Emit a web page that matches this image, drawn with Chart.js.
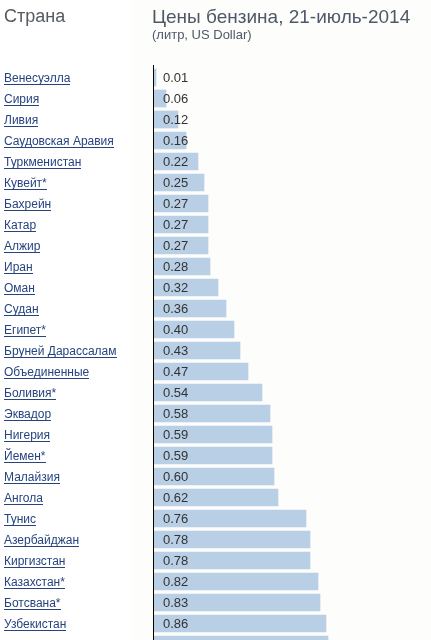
<!DOCTYPE html>
<html>
<head>
<meta charset="utf-8">
<script src="https://cdn.jsdelivr.net/npm/chart.js@4"></script>
<style>
  html, body { margin: 0; padding: 0; background: #fff; overflow: hidden; }
  #wrap { position: relative; width: 431px; height: 655px; }
</style>
</head>
<body>
<div id="wrap"><canvas id="fuelChart" width="431" height="655"></canvas></div>
<script>
// --- data ---
const countries = [
  "Венесуэлла", "Сирия", "Ливия", "Саудовская Аравия", "Туркменистан",
  "Кувейт*", "Бахрейн", "Катар", "Алжир", "Иран", "Оман", "Судан",
  "Египет*", "Бруней Дарассалам", "Объединенные", "Боливия*", "Эквадор",
  "Нигерия", "Йемен*", "Малайзия", "Ангола", "Тунис", "Азербайджан",
  "Киргизстан", "Казахстан*", "Ботсвана*", "Узбекистан", ""
];
const prices = [
  0.01, 0.06, 0.12, 0.16, 0.22, 0.25, 0.27, 0.27, 0.27, 0.28, 0.32, 0.36,
  0.40, 0.43, 0.47, 0.54, 0.58, 0.59, 0.59, 0.60, 0.62, 0.76, 0.78, 0.78,
  0.82, 0.83, 0.86, 0.87
];
const columnHeader = "Страна";
const chartTitle = "Цены бензина, 21-июль-2014";
const chartSubtitle = "(литр, US Dollar)";

const FONT = '"Liberation Sans", Arial, sans-serif';
const LINK = "#27447f";

// headers, axis line, underlines and value labels
const decorPlugin = {
  id: "decor",
  beforeDraw(chart) {
    const ctx = chart.ctx;
    ctx.save();
    ctx.fillStyle = "#fdfdfb";
    ctx.fillRect(132, 0, chart.width - 132, chart.height);
    ctx.fillStyle = "#555a60";
    ctx.textBaseline = "alphabetic";
    ctx.textAlign = "left";
    ctx.font = "18px " + FONT;
    ctx.fillText(columnHeader, 4, 22);
    ctx.fillStyle = "#4f5868";
    ctx.font = "19px " + FONT;
    ctx.fillText(chartTitle, 152, 23);
    ctx.font = "13px " + FONT;
    ctx.fillText(chartSubtitle, 152, 39);
    ctx.restore();
  },
  afterDraw(chart) {
    const ctx = chart.ctx;
    const area = chart.chartArea;
    const yScale = chart.scales.y;
    ctx.save();
    // axis line
    ctx.fillStyle = "#000";
    ctx.fillRect(area.left - 1, area.top - 2, 1, area.bottom - area.top + 2);
    // underline the country links
    ctx.font = "12px " + FONT;
    ctx.fillStyle = LINK;
    countries.forEach((name, i) => {
      if (!name) return;
      const y = Math.round(yScale.getPixelForTick(i));
      const w = ctx.measureText(name).width;
      ctx.fillRect(yScale.left, y + 6, Math.round(w), 1);
    });
    // price labels
    ctx.font = "13px " + FONT;
    ctx.fillStyle = "#333";
    ctx.textAlign = "left";
    ctx.textBaseline = "middle";
    chart.getDatasetMeta(0).data.forEach((bar, i) => {
      ctx.fillText(prices[i].toFixed(2), area.left + 9, bar.y + 1);
    });
    ctx.restore();
  }
};

const ctx = document.getElementById("fuelChart").getContext("2d");
new Chart(ctx, {
  type: "bar",
  data: {
    labels: countries,
    datasets: [
      {
        data: prices,
        backgroundColor: "#b9cfe5",
        borderWidth: 0,
        barThickness: 17,
      },
    ],
  },
  options: {
    indexAxis: "y",
    responsive: false,
    animation: false,
    layout: { padding: { left: 4, top: 67, right: 0, bottom: 0 } },
    scales: {
      x: {
        display: false,
        min: 0,
        max: 1.385,
      },
      y: {
        grid: { display: false },
        border: { display: false },
        afterFit(scale) {
          scale.width = 150;
          scale.paddingTop = 0;
          scale.paddingBottom = 0;
        },
        ticks: {
          autoSkip: false,
          crossAlign: "far",
          padding: 0,
          labelOffset: 1,
          color: LINK,
          font: { family: FONT, size: 12 },
        },
      },
    },
    plugins: {
      legend: { display: false },
      tooltip: { enabled: false },
    },
  },
  plugins: [decorPlugin],
});
</script>
</body>
</html>
